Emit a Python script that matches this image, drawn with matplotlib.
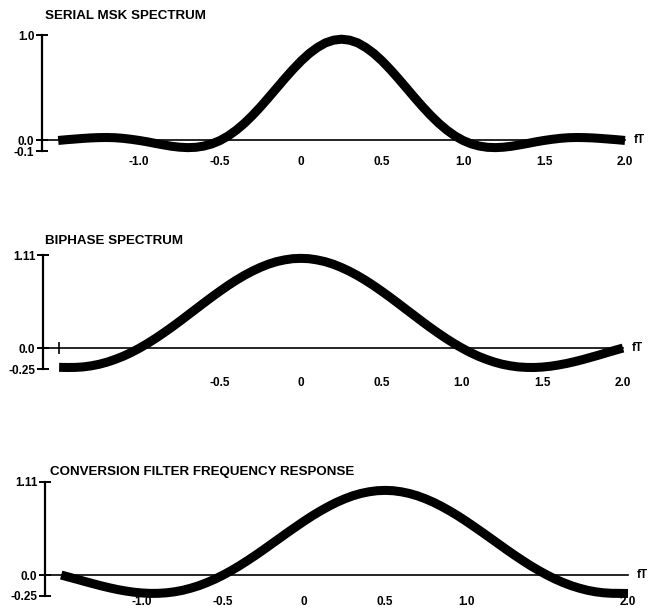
import matplotlib
matplotlib.use("Agg")
import matplotlib.pyplot as plt

plt.rcParams['font.family'] = ['Liberation Sans', 'DejaVu Sans']
plt.rcParams['font.weight'] = 'bold'

# frequency axis samples (fT)
fT = [-1.5, -1.45, -1.4, -1.35, -1.3, -1.25, -1.2, -1.15, -1.1, -1.05,
      -1.0, -0.95, -0.9, -0.85, -0.8, -0.75, -0.7, -0.65, -0.6, -0.55,
      -0.5, -0.45, -0.4, -0.35, -0.3, -0.25, -0.2, -0.15, -0.1, -0.05,
      0.0, 0.05, 0.1, 0.15, 0.2, 0.25, 0.3, 0.35, 0.4, 0.45,
      0.5, 0.55, 0.6, 0.65, 0.7, 0.75, 0.8, 0.85, 0.9, 0.95,
      1.0, 1.05, 1.1, 1.15, 1.2, 1.25, 1.3, 1.35, 1.4, 1.45,
      1.5, 1.55, 1.6, 1.65, 1.7, 1.75, 1.8, 1.85, 1.9, 1.95, 2.0]

# Serial MSK spectrum
msk = [0.0, 0.007, 0.013, 0.019, 0.024, 0.027, 0.028, 0.026, 0.020, 0.011,
       0.0, -0.013, -0.028, -0.042, -0.055, -0.064, -0.068, -0.065, -0.053, -0.032,
       0.0, 0.043, 0.098, 0.163, 0.238, 0.320, 0.408, 0.498, 0.588, 0.674,
       0.754, 0.824, 0.881, 0.925, 0.951, 0.960, 0.951, 0.925, 0.881, 0.824,
       0.754, 0.674, 0.588, 0.498, 0.408, 0.320, 0.238, 0.163, 0.098, 0.043,
       0.0, -0.032, -0.053, -0.065, -0.068, -0.064, -0.055, -0.042, -0.028, -0.013,
       0.0, 0.011, 0.020, 0.026, 0.028, 0.027, 0.024, 0.019, 0.013, 0.007, 0.0]

# Biphase spectrum
biphase = [-0.230, -0.232, -0.231, -0.225, -0.212, -0.193, -0.167, -0.134, -0.096, -0.051,
           0.0, 0.056, 0.117, 0.182, 0.250, 0.321, 0.394, 0.467, 0.540, 0.612,
           0.681, 0.748, 0.810, 0.867, 0.918, 0.963, 1.001, 1.031, 1.052, 1.066,
           1.070, 1.066, 1.052, 1.031, 1.001, 0.963, 0.918, 0.867, 0.810, 0.748,
           0.681, 0.612, 0.540, 0.467, 0.394, 0.321, 0.250, 0.182, 0.117, 0.056,
           0.0, -0.051, -0.096, -0.134, -0.167, -0.193, -0.212, -0.225, -0.231, -0.232,
           -0.227, -0.217, -0.202, -0.184, -0.162, -0.138, -0.111, -0.084, -0.055, -0.027, 0.0]

# Conversion filter frequency response
conv = [0.0, -0.026, -0.052, -0.079, -0.105, -0.130, -0.153, -0.174, -0.191, -0.205,
        -0.214, -0.219, -0.218, -0.212, -0.200, -0.182, -0.157, -0.127, -0.090, -0.048,
        0.0, 0.053, 0.110, 0.172, 0.236, 0.303, 0.372, 0.441, 0.510, 0.577,
        0.643, 0.706, 0.764, 0.818, 0.867, 0.909, 0.945, 0.973, 0.993, 1.006,
        1.010, 1.006, 0.993, 0.973, 0.945, 0.909, 0.867, 0.818, 0.764, 0.706,
        0.643, 0.577, 0.510, 0.441, 0.372, 0.303, 0.236, 0.172, 0.110, 0.053,
        0.0, -0.048, -0.090, -0.127, -0.157, -0.182, -0.200, -0.212, -0.218, -0.219, -0.220]

titles = ['SERIAL MSK SPECTRUM', 'BIPHASE SPECTRUM', 'CONVERSION FILTER FREQUENCY RESPONSE']
ylims = [(-0.1, 1.0), (-0.25, 1.11), (-0.25, 1.11)]
ytick_vals = [[-0.1, 0.0, 1.0], [-0.25, 0.0, 1.11], [-0.25, 0.0, 1.11]]
ytick_labels = [['-0.1', '0.0', '1.0'], ['-0.25', '0.0', '1.11'], ['-0.25', '0.0', '1.11']]
xlabel_vals = [[-1.0, -0.5, 0.0, 0.5, 1.0, 1.5, 2.0],
               [-0.5, 0.0, 0.5, 1.0, 1.5, 2.0],
               [-1.0, -0.5, 0.0, 0.5, 1.0, 2.0]]
xlabel_strs = [['-1.0', '-0.5', '0', '0.5', '1.0', '1.5', '2.0'],
               ['-0.5', '0', '0.5', '1.0', '1.5', '2.0'],
               ['-1.0', '-0.5', '0', '0.5', '1.0', '2.0']]
xmark_vals = [[0.0, 0.5, 2.0],
              [-1.5, -0.5, 0.0, 0.5, 1.5, 2.0],
              [-1.0, 0.0, 0.5, 1.0, 2.0]]
series = [msk, biphase, conv]

W, H = 654, 609
# layout in pixels: (left, right, top, bottom)
boxes = [(42, 625, 35, 151), (43, 623, 255, 369), (45, 628, 482, 596)]
xpads = [11, 21, 15]
title_pos = [(45, 16), (45, 241), (50, 472)]

fig = plt.figure(figsize=(W / 100, H / 100), dpi=100)
for i in range(3):
    l, r, t, b = boxes[i]
    ax = fig.add_axes([l / W, 1 - b / H, (r - l) / W, (b - t) / H])
    ax.plot(fT, series[i], color='black', lw=6.5, solid_capstyle='butt',
            solid_joinstyle='round', clip_on=False, zorder=3)
    ax.set_xlim(-1.6, 2.0)
    ax.set_ylim(*ylims[i])
    ax.set_facecolor('none')
    for s in ('top', 'right'):
        ax.spines[s].set_visible(False)
    ax.spines['left'].set_linewidth(1.6)
    ax.spines['bottom'].set_position(('data', 0))
    ax.spines['bottom'].set_linewidth(1.2)
    ax.set_xticks(xlabel_vals[i])
    ax.set_xticklabels(xlabel_strs[i])
    ax.tick_params(axis='x', which='major', length=0, pad=xpads[i], labelsize=8.5)
    ax.set_xticks(xmark_vals[i], minor=True)
    ax.tick_params(axis='x', which='minor', direction='inout', length=9, width=1.2)
    ax.set_yticks(ytick_vals[i])
    ax.set_yticklabels(ytick_labels[i])
    ax.tick_params(axis='y', direction='inout', length=9, width=1.4, pad=1, labelsize=8.5)
    ax.annotate('fT', xy=(2.0, 0), xytext=(6, 0), textcoords='offset points',
                va='center', ha='left', fontsize=8.5, fontweight='bold')
    tx, ty = title_pos[i]
    fig.text(tx / W, 1 - ty / H, titles[i], fontsize=9.6, fontweight='bold',
             va='center', ha='left')

fig.savefig('out.png', dpi=100, facecolor='white')
